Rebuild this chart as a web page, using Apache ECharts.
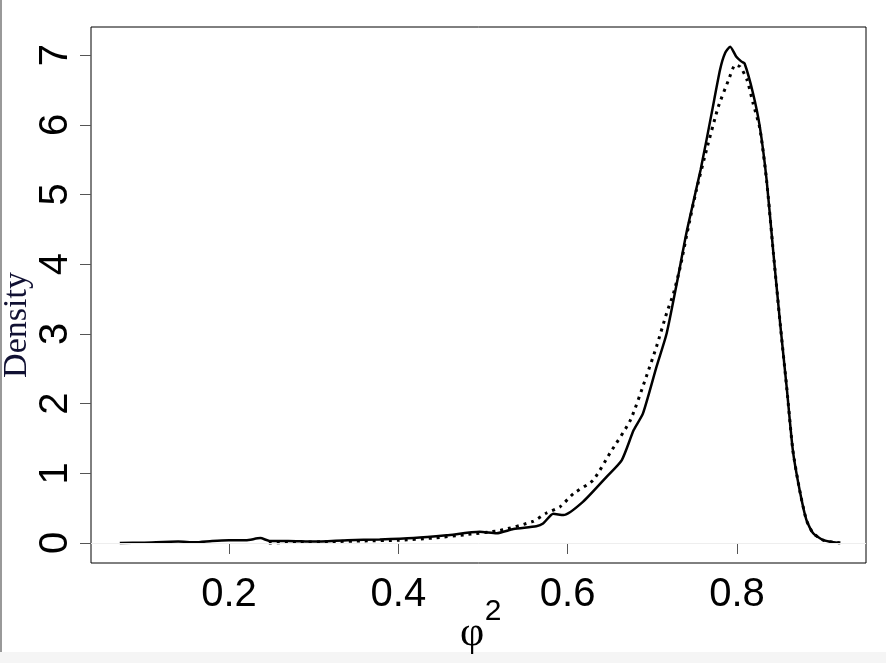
<!DOCTYPE html>
<html>
<head>
<meta charset="utf-8">
<script src="https://cdn.jsdelivr.net/npm/echarts@6/dist/echarts.min.js"></script>
<style>
html,body{margin:0;padding:0;background:#fff;}
#chart{width:886px;height:663px;}
</style>
</head>
<body>
<div id="chart"></div>
<script>
// Solid density curve
const xSolid = [0.071,0.10,0.14,0.16,0.18,0.20,0.22,0.237,0.248,0.27,0.30,0.34,0.378,0.418,0.457,0.496,0.516,0.536,0.563,0.571,0.583,0.595,0.618,0.646,0.664,0.678,0.689,0.705,0.717,0.729,0.741,0.757,0.770,0.780,0.786,0.792,0.799,0.805,0.809,0.819,0.827,0.835,0.843,0.851,0.859,0.866,0.874,0.882,0.890,0.902,0.914,0.921];
const ySolid = [0,0.005,0.02,0.01,0.03,0.04,0.04,0.07,0.03,0.03,0.02,0.04,0.05,0.07,0.11,0.16,0.14,0.20,0.24,0.28,0.42,0.40,0.59,0.95,1.19,1.62,1.86,2.53,3.01,3.73,4.49,5.35,6.16,6.79,7.03,7.12,6.98,6.91,6.88,6.45,5.97,5.21,4.16,3.15,2.20,1.33,0.76,0.33,0.14,0.04,0.01,0.0];
// Dotted density curve
const xDotted = [0.247,0.28,0.32,0.36,0.40,0.44,0.48,0.52,0.559,0.575,0.591,0.607,0.630,0.650,0.674,0.693,0.705,0.717,0.725,0.733,0.741,0.752,0.764,0.778,0.790,0.798,0.804,0.812,0.819,0.827,0.835,0.843,0.851,0.859,0.866,0.874,0.882,0.890,0.902,0.914,0.928];
const yDotted = [0,0.01,0.02,0.03,0.04,0.07,0.12,0.18,0.31,0.43,0.52,0.71,0.90,1.29,1.76,2.39,2.82,3.30,3.58,3.96,4.44,5.06,5.64,6.26,6.64,6.86,6.83,6.64,6.31,5.95,5.20,4.16,3.15,2.20,1.33,0.76,0.33,0.14,0.04,0.01,0.0];
// Tick labels
const xTicks = [0.2,0.4,0.6,0.8];
const yTicks = [0,1,2,3,4,5,6,7];

const zip = (xs, ys) => xs.map((x, i) => [x, ys[i]]);
const chart = echarts.init(document.getElementById('chart'), null, {renderer:'canvas'});
const labelFont = 'Liberation Sans, Arial, Helvetica, sans-serif';
chart.setOption({
  animation: false,
  backgroundColor: '#fff',
  grid: {left: 91, right: 20, top: 27, bottom: 100, show: true, borderColor: '#000', borderWidth: 1, backgroundColor: 'transparent'},
  xAxis: {
    type: 'value', min: 0.037, max: 0.9524,
    axisLine: {show: false},
    splitLine: {show: false},
    axisTick: {show: true, customValues: xTicks, length: 11, lineStyle: {color: '#555', width: 1}},
    axisLabel: {customValues: xTicks, margin: 12, fontSize: 40, fontFamily: labelFont, color: '#000',
      formatter: v => v.toFixed(1)}
  },
  yAxis: {
    type: 'value', min: -0.287, max: 7.403,
    axisLine: {show: false},
    splitLine: {show: false},
    axisTick: {show: true, customValues: yTicks, length: 11, lineStyle: {color: '#555', width: 1}},
    axisLabel: {customValues: yTicks, rotate: 90, margin: 15, fontSize: 40, fontFamily: labelFont, color: '#000',
      align: 'center', verticalAlign: 'bottom', formatter: v => String(v)}
  },
  series: [
    {type: 'line', data: zip(xSolid, ySolid), showSymbol: false, smooth: 0.2,
      lineStyle: {color: '#000', width: 2.5},
      markLine: {silent: true, symbol: 'none', label: {show: false},
        lineStyle: {color: '#eeeeee', width: 1, type: 'solid'}, data: [{yAxis: 0}]}},
    {type: 'line', data: zip(xDotted, yDotted), showSymbol: false, smooth: 0.2,
      lineStyle: {color: '#000', width: 3, type: [3, 5]}}
  ],
  graphic: [
    {type: 'rect', left: 0, top: 0, shape: {width: 2, height: 663}, style: {fill: '#999'}, silent: true},
    {type: 'rect', left: 0, top: 652, shape: {width: 886, height: 11}, style: {fill: '#f5f5f5'}, silent: true},
    {type: 'text', x: 17, y: 325, rotation: Math.PI / 2,
      style: {text: 'Density', fontSize: 34, fontFamily: 'Liberation Serif, Times New Roman, serif', fill: '#111133', align: 'center', verticalAlign: 'middle'}},
    {type: 'text', x: 472, y: 634,
      style: {text: 'φ', fontSize: 42, fontFamily: 'Liberation Serif, Times New Roman, serif', fill: '#000', align: 'center', verticalAlign: 'middle'}},
    {type: 'text', x: 493, y: 612,
      style: {text: '2', fontSize: 30, fontFamily: labelFont, fill: '#000', align: 'center', verticalAlign: 'middle'}}
  ]
});
</script>
</body>
</html>
